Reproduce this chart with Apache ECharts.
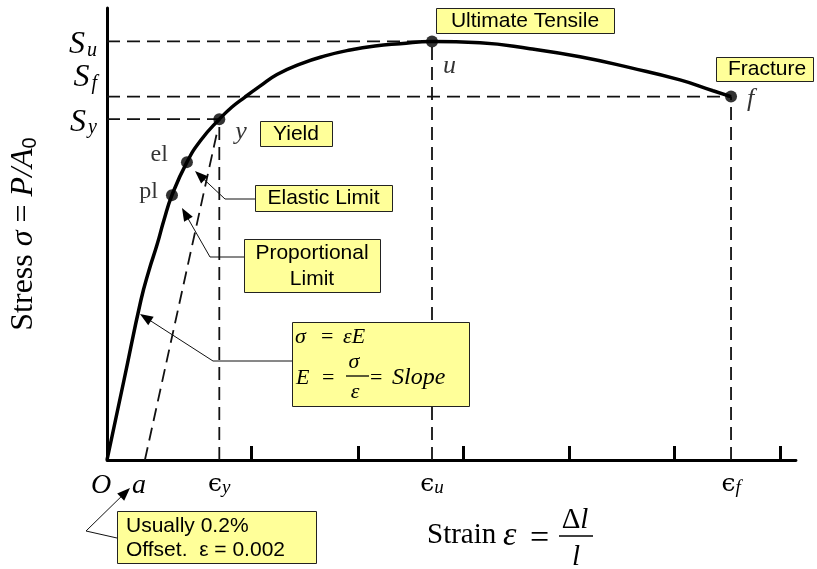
<!DOCTYPE html>
<html>
<head>
<meta charset="utf-8">
<script src="https://cdn.jsdelivr.net/npm/echarts@6/dist/echarts.min.js"></script>
<style>
  html, body { margin: 0; padding: 0; background: #fff; }
  #chart { width: 817px; height: 569px; }
</style>
</head>
<body>
<div id="chart"></div>
<script>
// Engineering stress-strain curve (arbitrary units, 0..100 on both axes)
const strain = [0, 2.47, 4.93, 6.10, 7.26, 8.27, 9.43, 11.6, 13.64, 16.3, 18.14, 20.03, 22.2, 24.67, 28.01,
                31.64, 35.27, 38.9, 42.53, 47.17, 54.14, 61.39, 68.65, 75.91, 83.16, 87.95, 90.57];
const stress = [0, 17.7, 35.4, 42.0, 47.6, 53.1, 58.6, 65.9, 70.8, 75.4, 78.1, 80.3, 82.7, 85.3, 87.6,
                89.4, 90.7, 91.6, 92.1, 92.6, 92.3, 91.0, 89.2, 86.8, 84.1, 81.7, 80.4];

// Marked points on the curve and the index of each in the arrays above
const pointNames = ['pl', 'el', 'y', 'u', 'f'];
const pointIndex = [6, 7, 9, 19, 26];

// 0.2% offset line: starts at strain "a", runs parallel to the elastic part
const offsetStart = 5.5;
const offsetEnd = [15.9, 72.0];

// Plain tick marks along the strain axis
const tickStrains = [21.0, 36.4, 51.7, 67.1, 82.3, 97.7];

const serif = '"Liberation Serif", "Times New Roman", serif';
const sans = '"Liberation Sans", Arial, sans-serif';
const yellow = '#ffff99';

const idx = Object.fromEntries(pointNames.map((n, i) => [n, pointIndex[i]]));
const epsY = strain[idx.y], Sy = stress[idx.y];
const epsU = strain[idx.u], Su = stress[idx.u];
const epsF = strain[idx.f], Sf = stress[idx.f];

const curve = strain.map((x, i) => [x, stress[i]]);

const guides = [
  [[0, Su], [epsU, Su]],
  [[0, Sf], [epsF, Sf]],
  [[0, Sy], [epsY, Sy]],
  [[epsY, 0], [epsY, Sy]],
  [[epsU, 0], [epsU, Su]],
  [[epsF, 0], [epsF, Sf]],
  [[offsetStart, 0], offsetEnd]
];

const pointLabel = {
  pl: { position: 'left', distance: 8, offset: [0, -3], fontStyle: 'normal', fontSize: 24 },
  el: { position: 'left', distance: 13, offset: [0, -7], fontStyle: 'normal', fontSize: 24 },
  y:  { position: 'right', distance: 10, offset: [0, 13], fontStyle: 'italic', fontSize: 26 },
  u:  { position: 'right', distance: 5, offset: [0, 25], fontStyle: 'italic', fontSize: 26 },
  f:  { position: 'right', distance: 10, offset: [0, 3], fontStyle: 'italic', fontSize: 26 }
};

const points = pointNames.map(n => ({
  name: n,
  value: [strain[idx[n]], stress[idx[n]]],
  label: Object.assign({ show: true, formatter: n, color: '#000', fontFamily: serif }, pointLabel[n])
}));

// stress levels named on the vertical axis; S_f is nudged up so it clears S_y
const stressMarks = [[Sy, 'y'], [Sf, 'f'], [Su, 'u']];
const stressNudge = { y: 3, f: -19, u: 3 };
const xLabelText = new Map([[0, '{o|O}'], [offsetStart, '{a|a}'], [epsY, '{e|ϵ}{s|y}'], [epsU, '{e|ϵ}{s|u}'], [epsF, '{e|ϵ}{s|f}']]);

// callout arrow: thin polyline ending in a filled head at the last point
function arrow(pts) {
  const [x1, y1] = pts[pts.length - 2];
  const [x2, y2] = pts[pts.length - 1];
  const ang = Math.atan2(y2 - y1, x2 - x1);
  const L = 13, W = 5;
  const bx = x2 - L * Math.cos(ang), by = y2 - L * Math.sin(ang);
  const nx = -Math.sin(ang) * W, ny = Math.cos(ang) * W;
  const linePts = pts.slice(0, -1).concat([[x2 - (L - 2) * Math.cos(ang), y2 - (L - 2) * Math.sin(ang)]]);
  return [
    { type: 'polyline', shape: { points: linePts }, style: { stroke: '#111', lineWidth: 1, fill: null }, z: 20 },
    { type: 'polygon', shape: { points: [[x2, y2], [bx + nx, by + ny], [bx - nx, by - ny]] }, style: { fill: '#000' }, z: 20 }
  ];
}

function box(x, y, w, h) {
  return { type: 'rect', shape: { x: x + 0.5, y: y + 0.5, width: w, height: h }, style: { fill: yellow, stroke: '#222', lineWidth: 1 }, z: 15 };
}

function label(text, x, y, opts) {
  return {
    type: 'text', z: 16,
    style: Object.assign({
      text, x, y, fill: '#000', font: '21px ' + sans,
      textAlign: 'center', textVerticalAlign: 'middle', align: 'center', verticalAlign: 'middle'
    }, opts || {})
  };
}
const leftAlign = { textAlign: 'left', align: 'left' };

function hbar(x1, x2, y) {
  return { type: 'line', shape: { x1, y1: y, x2, y2: y }, style: { stroke: '#000', lineWidth: 1.3 }, z: 16 };
}

const mathRich = {
  n: { fontFamily: serif, fontSize: 22 },
  i: { fontFamily: serif, fontSize: 22, fontStyle: 'italic' },
  w: { fontFamily: serif, fontSize: 24, fontStyle: 'italic' }
};
const axisRich = {
  n: { fontFamily: serif, fontSize: 29 },
  i: { fontFamily: serif, fontSize: 29, fontStyle: 'italic' },
  g: { fontFamily: serif, fontSize: 34, fontStyle: 'italic' },
  q: { fontFamily: serif, fontSize: 34 }
};
const stressRich = {
  S: { fontFamily: serif, fontStyle: 'italic', fontSize: 32, lineHeight: 32, verticalAlign: 'bottom' },
  s: { fontFamily: serif, fontStyle: 'italic', fontSize: 20, lineHeight: 20, verticalAlign: 'bottom', padding: [0, 0, 0, 2] }
};

const graphics = [].concat(
  // boxed callouts
  [box(436, 8, 178, 25), label('Ultimate Tensile', 525, 21)],
  [box(716, 57, 97, 24), label('Fracture', 767, 69.5)],
  [box(260, 121, 72, 25), label('Yield', 296, 134)],
  [box(255, 185, 137, 26), label('Elastic Limit', 323.5, 198.5)],
  [box(244, 239, 136, 53), label('Proportional', 312, 253), label('Limit', 312, 279)],
  [box(117, 511, 199, 52),
   label('Usually 0.2%', 126, 526, leftAlign),
   label('Offset.  ε = 0.002', 126, 550, leftAlign)],
  // formula box
  [box(292, 322, 177, 84),
   label('{i|σ}', 295, 337, Object.assign({ rich: mathRich }, leftAlign)),
   label('{n|=}', 321, 337, Object.assign({ rich: mathRich }, leftAlign)),
   label('{i|εE}', 343, 337, Object.assign({ rich: mathRich }, leftAlign)),
   label('{i|E}', 296, 378, Object.assign({ rich: mathRich }, leftAlign)),
   label('{n|=}', 322, 378, Object.assign({ rich: mathRich }, leftAlign)),
   label('{i|σ}', 354, 362, { rich: mathRich }),
   hbar(346, 369, 376),
   label('{i|ε}', 355, 392, { rich: mathRich }),
   label('{n|=}', 370, 378, Object.assign({ rich: mathRich }, leftAlign)),
   label('{w|Slope}', 392, 378, Object.assign({ rich: mathRich }, leftAlign))],
  // strain axis title with fraction
  [label('{n|Strain}', 427, 535, Object.assign({ rich: axisRich }, leftAlign)),
   label('{g|ε}', 503, 536, Object.assign({ rich: axisRich }, leftAlign)),
   label('{q|=}', 530, 539, Object.assign({ rich: axisRich }, leftAlign)),
   label('{n|Δ}{i|l}', 575, 520, { rich: axisRich }),
   hbar(559, 593, 536),
   label('{i|l}', 576, 557, { rich: axisRich })],
  // arrows from the callouts to the curve
  arrow([[255, 199], [225, 199], [195, 171]]),
  arrow([[244, 257], [210, 257], [182, 208]]),
  arrow([[292, 361], [213, 361], [140, 314]]),
  arrow([[117, 538], [86, 531], [130, 488]])
);

const chart = echarts.init(document.getElementById('chart'), null, { renderer: 'canvas' });

chart.setOption({
  backgroundColor: '#fff',
  animation: false,
  grid: { left: 107, right: 21, top: 8, bottom: 109, containLabel: false },
  xAxis: {
    type: 'value', min: 0, max: 100,
    axisLine: { show: true, onZero: false, lineStyle: { color: '#000', width: 2.8 } },
    axisTick: { show: true, inside: true, length: 14, customValues: tickStrains, lineStyle: { color: '#000', width: 3 } },
    axisLabel: {
      show: true, margin: 12, color: '#000', hideOverlap: false,
      customValues: [0, offsetStart, epsY, epsU, epsF],
      formatter: v => xLabelText.get(v) || '',
      rich: {
        o: { fontFamily: serif, fontStyle: 'italic', fontSize: 28, padding: [0, 12, 0, 0] },
        a: { fontFamily: serif, fontStyle: 'italic', fontSize: 28, padding: [0, 12, 0, 0] },
        e: { fontFamily: '"DejaVu Serif", serif', fontSize: 25, lineHeight: 25, verticalAlign: 'top' },
        s: { fontFamily: serif, fontStyle: 'italic', fontSize: 19, lineHeight: 19, verticalAlign: 'bottom', padding: [8, 0, 0, 0] }
      }
    },
    splitLine: { show: false }
  },
  yAxis: {
    type: 'value', min: 0, max: 100,
    name: '{n|Stress }{i|σ}{n| = }{i|P/A}{z|0}',
    nameLocation: 'middle', nameRotate: 90, nameGap: 67,
    nameTextStyle: {
      color: '#000',
      rich: {
        n: { fontFamily: serif, fontSize: 32, verticalAlign: 'bottom', lineHeight: 32 },
        i: { fontFamily: serif, fontSize: 32, fontStyle: 'italic', verticalAlign: 'bottom', lineHeight: 32 },
        z: { fontFamily: sans, fontSize: 20, verticalAlign: 'bottom', lineHeight: 24 }
      }
    },
    axisLine: { show: true, onZero: false, lineStyle: { color: '#000', width: 3 } },
    axisTick: { show: false },
    axisLabel: { show: false },
    splitLine: { show: false }
  },
  series: guides.map((seg, k) => ({
    type: 'line', name: 'guide' + k, data: seg, symbol: 'none', silent: true, z: 1,
    lineStyle: { color: '#111', width: 1.8, type: [13, 7] }
  })).concat([
    {
      type: 'line', name: 'stress-strain', data: curve, smooth: 0.5, symbol: 'none', z: 5,
      lineStyle: { color: '#000', width: 3.5 }
    },
    {
      type: 'scatter', name: 'points', data: points, symbol: 'circle', symbolSize: 12, z: 6,
      itemStyle: { color: '#000' }
    }
  ]),
  graphic: { elements: graphics }
});

// S labels beside the stress axis, placed through the axis scale
const stressLabels = stressMarks.map(([v, sub]) => {
  const [px, py] = chart.convertToPixel({ gridIndex: 0 }, [0, v]);
  return label('{S|S}{s|' + sub + '}', px - 10, py + stressNudge[sub], { textAlign: 'right', align: 'right', rich: stressRich });
});
chart.setOption({ graphic: { elements: graphics.concat(stressLabels) } });
</script>
</body>
</html>
